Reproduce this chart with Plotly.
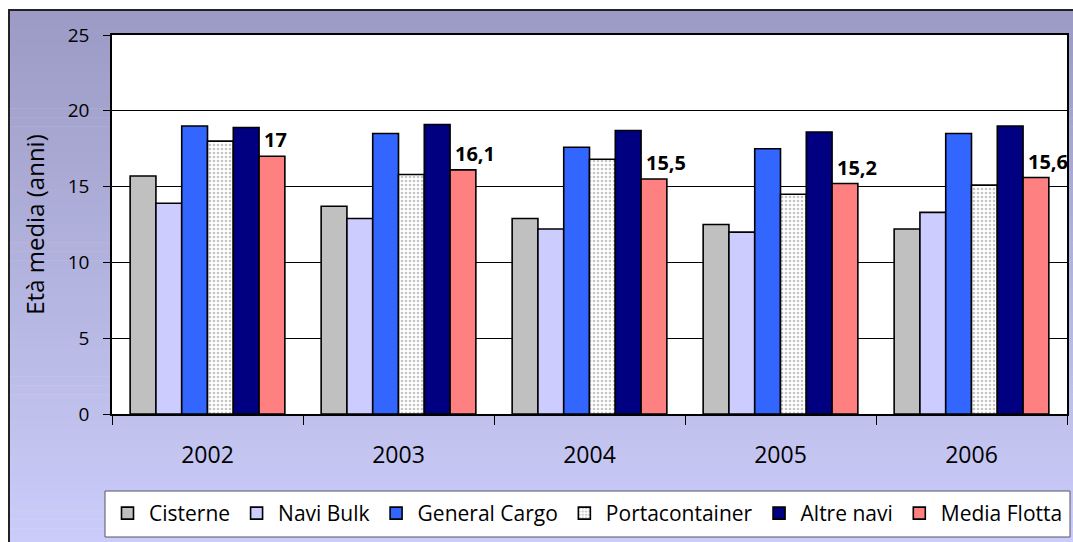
import plotly.graph_objects as go

# ---------------- data ----------------
years = ["2002", "2003", "2004", "2005", "2006"]
cisterne = [15.7, 13.7, 12.9, 12.5, 12.2]
navi_bulk = [13.9, 12.9, 12.2, 12.0, 13.3]
general_cargo = [19.0, 18.5, 17.6, 17.5, 18.5]
portacontainer = [18.0, 15.8, 16.8, 14.5, 15.1]
altre_navi = [18.9, 19.1, 18.7, 18.6, 19.0]
media_flotta = [17.0, 16.1, 15.5, 15.2, 15.6]
y_ticks = [0, 5, 10, 15, 20, 25]

# ---------------- geometry (pixels) ----------------
W, H = 1073, 542
L, R, T, B = 112, 1067, 35, 414
FONT = "Open Sans"
BARGAP = 0.19


def px2x(px):
    return (px - L) / (R - L)


def py2y(py):
    return (B - py) / (B - T)


def fmt(v):
    return f"{v:g}".replace(".", ",")


series = [
    ("Cisterne", cisterne, "#C0C0C0", None),
    ("Navi Bulk", navi_bulk, "#CCCCFF", None),
    ("General Cargo", general_cargo, "#3366FF", None),
    ("Portacontainer", portacontainer, "#FFFFFF", "."),
    ("Altre navi", altre_navi, "#000080", None),
    ("Media Flotta", media_flotta, "#FF8080", None),
]

fig = go.Figure()
for name, vals, color, pat in series:
    marker = dict(color=color, line=dict(color="black", width=1.6))
    if pat:
        marker["pattern"] = dict(shape=pat, fgcolor="#8a8a8a", bgcolor="white",
                                 size=4, solidity=0.35)
    fig.add_trace(go.Bar(name=name, x=years, y=vals, marker=marker))

# value labels for "Media Flotta": left-aligned at the left edge of its bar
band_px = (R - L) / len(years)
bar_px = band_px * (1 - BARGAP) / len(series)
label_shift = 2 * bar_px + 3  # left edge of 6th bar relative to category centre
annotations = [
    dict(x=i, y=v, xref="x", yref="y", text=fmt(v), showarrow=False,
         xanchor="left", yanchor="bottom", xshift=label_shift, yshift=1,
         font=dict(family=FONT, size=20, color="black", weight="bold"))
    for i, v in enumerate(media_flotta)
]

# ---------------- background gradient ----------------
shapes = []
top_c = (155, 155, 197)
bot_c = (204, 204, 250)
y_start, y_end = 10, H + 4
n = 60
step = (y_end - y_start) / n
for i in range(n):
    t = i / (n - 1)
    c = tuple(round(top_c[k] + (bot_c[k] - top_c[k]) * t) for k in range(3))
    y0 = y_start + i * step
    y1 = y_start + (i + 1) * step + 0.6
    shapes.append(dict(type="rect", xref="paper", yref="paper", layer="below",
                       x0=px2x(9), x1=px2x(W + 5), y0=py2y(y1), y1=py2y(y0),
                       fillcolor=f"rgb{c}", line=dict(width=0)))
# outer chart border
shapes.append(dict(type="rect", xref="paper", yref="paper", layer="below",
                   x0=px2x(9), x1=px2x(W + 10), y0=py2y(H + 10), y1=py2y(10),
                   fillcolor="rgba(0,0,0,0)", line=dict(color="#222222", width=2)))
# plot area white background
shapes.append(dict(type="rect", xref="paper", yref="paper", layer="below",
                   x0=0, x1=1, y0=0, y1=1, fillcolor="white", line=dict(width=0)))
# legend box
shapes.append(dict(type="rect", xref="paper", yref="paper", layer="below",
                   x0=px2x(105), x1=px2x(1070), y0=py2y(537), y1=py2y(491),
                   fillcolor="white", line=dict(color="#555566", width=1)))

fig.update_layout(
    width=W, height=H,
    margin=dict(l=L, r=W - R, t=T, b=H - B, pad=0),
    paper_bgcolor="white",
    plot_bgcolor="white",
    barmode="group",
    bargap=BARGAP,
    bargroupgap=0,
    font=dict(family=FONT, color="black"),
    shapes=shapes,
    annotations=annotations,
    showlegend=True,
    legend=dict(orientation="h", x=px2x(106), y=py2y(493), xanchor="left", yanchor="top",
                bgcolor="rgba(0,0,0,0)", borderwidth=0,
                font=dict(family=FONT, size=21, color="black"),
                itemwidth=33, traceorder="normal"),
    xaxis=dict(type="category", range=[-0.5, 4.5], showline=True, linecolor="black",
               linewidth=1.5, mirror=True, ticks="outside", tickson="boundaries",
               ticklen=9, tickcolor="black", tickwidth=1,
               tickfont=dict(family=FONT, size=23, color="black"),
               showgrid=False, automargin=False, ticklabelstandoff=20),
    yaxis=dict(range=[0, 25], tickvals=y_ticks, ticktext=[str(v) for v in y_ticks],
               showgrid=True, gridcolor="black", gridwidth=1, zeroline=False,
               showline=True, linecolor="black", linewidth=1.5, mirror=True,
               ticks="outside", ticklen=7, tickcolor="black",
               tickfont=dict(family=FONT, size=19, color="black"),
               automargin=False, ticklabelstandoff=10,
               title=dict(text="Età media (anni)", standoff=16,
                          font=dict(family=FONT, size=24, color="black"))),
)

fig.write_html("out.html")
